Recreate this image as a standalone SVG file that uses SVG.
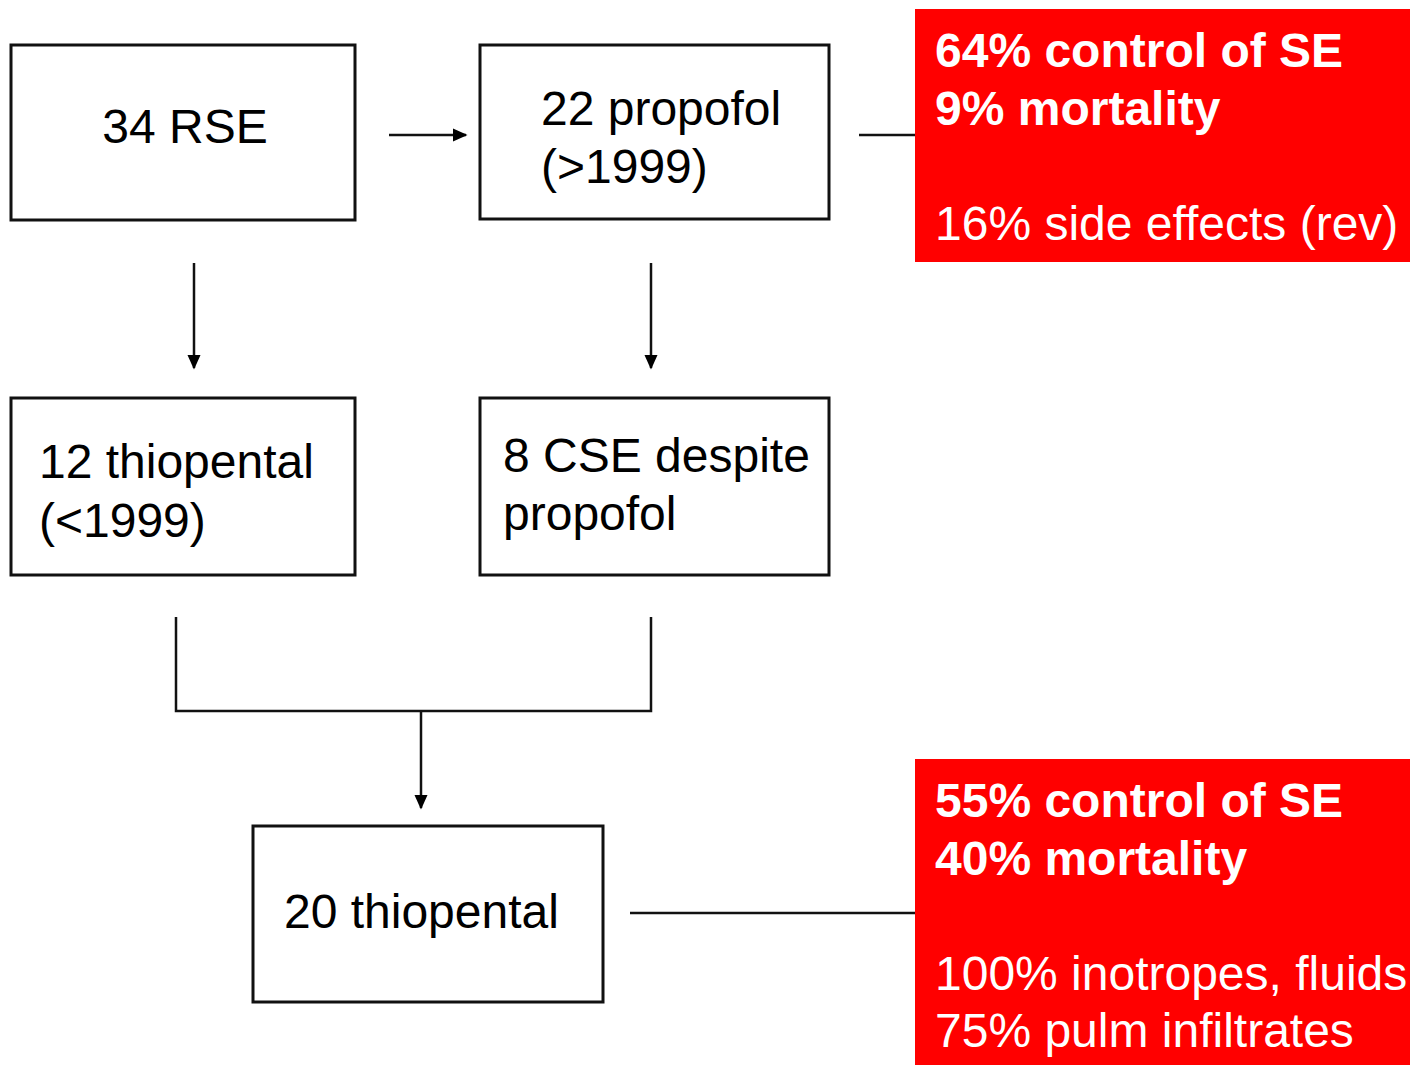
<svg xmlns="http://www.w3.org/2000/svg" width="1410" height="1065" viewBox="0 0 1410 1065">
<style>
.box{fill:#fff;stroke:#111;stroke-width:3}
.red{fill:#ff0000}
.t{font-family:"Liberation Sans",Arial,sans-serif;font-size:48px;fill:#000}
.w{font-family:"Liberation Sans",Arial,sans-serif;font-size:48px;fill:#fff}
.b{font-weight:bold}
.ln{stroke:#111;stroke-width:2.5;fill:none}
</style>
<defs>
<marker id="ah" viewBox="0 0 10 10" refX="9" refY="5" markerWidth="6" markerHeight="6" orient="auto" markerUnits="strokeWidth">
<path d="M0,0.5 L10,5 L0,9.5 Z" fill="#000"/>
</marker>
</defs>
<rect width="1410" height="1065" fill="#fff"/>
<g id="connectors">
<line class="ln" x1="389" y1="135" x2="466" y2="135" marker-end="url(#ah)"/>
<line class="ln" x1="194" y1="263" x2="194" y2="368" marker-end="url(#ah)"/>
<line class="ln" x1="651" y1="263" x2="651" y2="368" marker-end="url(#ah)"/>
<polyline class="ln" points="176,617 176,711 651,711 651,617"/>
<line class="ln" x1="421" y1="711" x2="421" y2="808" marker-end="url(#ah)"/>
<line class="ln" x1="859" y1="135" x2="915" y2="135"/>
<line class="ln" x1="630" y1="913" x2="915" y2="913"/>
</g>
<g id="n1"><rect class="box" x="11" y="45" width="344" height="175"/><text class="t" x="185" y="143" text-anchor="middle">34 RSE</text></g>
<g id="n2"><rect class="box" x="480" y="45" width="349" height="174"/><text class="t" x="541" y="125">22 propofol</text><text class="t" x="541" y="183">(&gt;1999)</text></g>
<g id="n3"><rect class="box" x="11" y="398" width="344" height="177"/><text class="t" x="39" y="478">12 thiopental</text><text class="t" x="39" y="537">(&lt;1999)</text></g>
<g id="n4"><rect class="box" x="480" y="398" width="349" height="177"/><text class="t" x="503" y="472">8 CSE despite</text><text class="t" x="503" y="530">propofol</text></g>
<g id="n5"><rect class="box" x="253" y="826" width="350" height="176"/><text class="t" x="284" y="928">20 thiopental</text></g>
<g id="r1"><rect class="red" x="915" y="9" width="495" height="253"/>
<text class="w b" x="935" y="67">64% control of SE</text>
<text class="w b" x="935" y="125">9% mortality</text>
<text class="w" x="935" y="240">16% side effects (rev)</text></g>
<g id="r2"><rect class="red" x="915" y="759" width="495" height="306"/>
<text class="w b" x="935" y="817">55% control of SE</text>
<text class="w b" x="935" y="875">40% mortality</text>
<text class="w" x="935" y="990">100% inotropes, fluids</text>
<text class="w" x="935" y="1047">75% pulm infiltrates</text></g>
</svg>
